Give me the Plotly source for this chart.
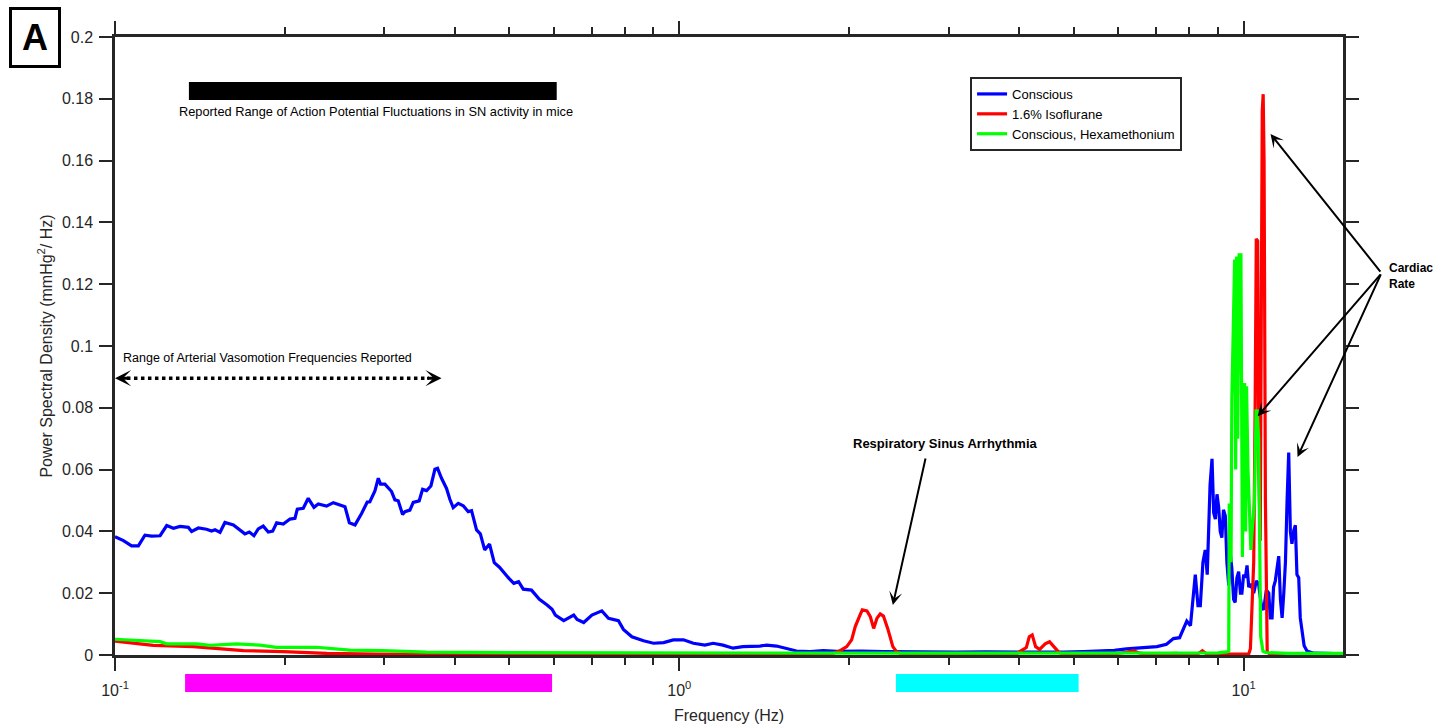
import numpy as np
import plotly.graph_objects as go

# ---- Spectra (frequency in Hz, PSD in mmHg^2/Hz) ----
blue_f = [0.1000, 0.1035, 0.1070, 0.1100, 0.1130, 0.1161, 0.1202, 0.1235, 0.1269, 0.1304,
          0.1349, 0.1367, 0.1405, 0.1453, 0.1483, 0.1504, 0.1535, 0.1566, 0.1621, 0.1699,
          0.1730, 0.1763, 0.1794, 0.1831, 0.1869, 0.1903, 0.1934, 0.1987, 0.2042, 0.2084,
          0.2104, 0.2156, 0.2200, 0.2252, 0.2292, 0.2371, 0.2437, 0.2556, 0.2602, 0.2663,
          0.2735, 0.2799, 0.2829, 0.2888, 0.2928, 0.2955, 0.3008, 0.3091, 0.3133, 0.3176,
          0.3233, 0.3264, 0.3331, 0.3377, 0.3460, 0.3508, 0.3565, 0.3629, 0.3689, 0.3729,
          0.3790, 0.3868, 0.3921, 0.3975, 0.4057, 0.4141, 0.4226, 0.4284, 0.4372, 0.4440,
          0.452, 0.461, 0.470, 0.480, 0.499, 0.509, 0.519, 0.529, 0.547, 0.565,
          0.583, 0.595, 0.603, 0.624, 0.650, 0.659, 0.677, 0.700, 0.729, 0.749,
          0.780, 0.796, 0.824, 0.864, 0.900, 0.938, 0.976, 1.017, 1.059, 1.110,
          1.148, 1.195, 1.245, 1.296, 1.389, 1.428, 1.487, 1.549, 1.613, 1.705,
          1.80, 1.90, 2.10, 2.30, 2.50, 2.80, 3.10, 3.50, 3.90, 4.30,
          4.80, 5.20, 5.60, 5.90, 6.20, 6.50, 6.80, 7.02, 7.30, 7.51,
          7.70, 7.93, 8.05, 8.21, 8.30, 8.38, 8.47, 8.55, 8.62, 8.67,
          8.72, 8.79, 8.85, 8.91, 8.97, 9.03, 9.09, 9.15, 9.21, 9.28,
          9.34, 9.41, 9.47, 9.53, 9.60, 9.66, 9.73, 9.80, 9.87, 9.93,
          10.00, 10.07, 10.14, 10.21, 10.30, 10.42, 10.53, 10.63, 10.75, 10.85,
          10.97, 11.08, 11.15, 11.23, 11.30, 11.38, 11.46, 11.54, 11.62, 11.70,
          11.78, 11.86, 11.94, 12.02, 12.10, 12.18, 12.26, 12.35, 12.43, 12.52,
          12.60, 12.69, 12.80, 12.95, 13.31, 14.00, 15.00]
blue_v = [0.0383, 0.0370, 0.0353, 0.0353, 0.0388, 0.0385, 0.0386, 0.0419, 0.0410, 0.0416,
          0.0413, 0.0400, 0.0411, 0.0407, 0.0401, 0.0405, 0.0397, 0.0429, 0.0421, 0.0392,
          0.0398, 0.0386, 0.0408, 0.0417, 0.0398, 0.0401, 0.0428, 0.0424, 0.0440, 0.0442,
          0.0472, 0.0475, 0.0507, 0.0478, 0.0489, 0.0482, 0.0493, 0.0480, 0.0428, 0.0421,
          0.0458, 0.0495, 0.0496, 0.0531, 0.0572, 0.0553, 0.0553, 0.0529, 0.0502, 0.0499,
          0.0455, 0.0464, 0.0469, 0.0494, 0.0499, 0.0536, 0.0532, 0.0547, 0.0601, 0.0604,
          0.0572, 0.0539, 0.0504, 0.0477, 0.0491, 0.0483, 0.0464, 0.0467, 0.0405, 0.0392,
          0.0340, 0.0359, 0.0299, 0.0284, 0.0248, 0.0232, 0.0237, 0.0213, 0.0210, 0.0180,
          0.0162, 0.0148, 0.0129, 0.0111, 0.0129, 0.0115, 0.0105, 0.0129, 0.0143, 0.0119,
          0.0111, 0.0083, 0.0059, 0.0046, 0.0038, 0.0040, 0.0049, 0.0049, 0.0038, 0.0032,
          0.0038, 0.0032, 0.0022, 0.0027, 0.0029, 0.0032, 0.0029, 0.0022, 0.0013, 0.0011,
          0.0014, 0.0012, 0.0013, 0.0011, 0.0010, 0.0011, 0.0009, 0.0010, 0.0009, 0.0010,
          0.0009, 0.0011, 0.0012, 0.0015, 0.0020, 0.0022, 0.0024, 0.0027, 0.0035, 0.0053,
          0.0056, 0.0110, 0.0095, 0.0260, 0.0160, 0.0160, 0.0300, 0.0340, 0.0260, 0.0400,
          0.0550, 0.0635, 0.0460, 0.0440, 0.0520, 0.0480, 0.0400, 0.0380, 0.0470, 0.0450,
          0.0300, 0.0225, 0.0330, 0.0280, 0.0180, 0.0170, 0.0250, 0.0270, 0.0200, 0.0200,
          0.0260, 0.0250, 0.0290, 0.0220, 0.0230, 0.0200, 0.0240, 0.0230, 0.0160, 0.0146,
          0.0210, 0.0200, 0.0120, 0.0120, 0.0220, 0.0240, 0.0290, 0.0320, 0.0180, 0.0120,
          0.0200, 0.0300, 0.0500, 0.0655, 0.0400, 0.0360, 0.0400, 0.0420, 0.0260, 0.0250,
          0.0120, 0.0080, 0.0030, 0.0013, 0.0006, 0.0005, 0.0004]

red_f = [0.1000, 0.1063, 0.1169, 0.1376, 0.1474, 0.1689, 0.1987, 0.2372, 0.2906, 0.3812,
         0.60, 1.00, 1.50, 1.85, 1.924, 1.98, 2.02, 2.05, 2.09, 2.11,
         2.15, 2.18, 2.21, 2.24, 2.27, 2.30, 2.34, 2.36, 2.39, 2.43,
         2.50, 3.50, 3.95, 4.01, 4.12, 4.17, 4.22, 4.28, 4.35, 4.45,
         4.53, 4.61, 4.71, 4.80, 5.50, 5.90, 6.20, 6.37, 6.55, 6.80,
         7.60, 7.90, 8.30, 8.45, 8.60, 10.21, 10.28, 10.35, 10.42, 10.48,
         10.53, 10.59, 10.64, 10.70, 10.74, 10.79, 10.83, 10.87, 10.93, 10.97,
         11.01, 11.15, 15.00]
red_v = [0.0045, 0.0040, 0.0031, 0.0027, 0.0022, 0.0014, 0.0011, 0.0005, 0.0003, 0.0001,
         0.0001, 0.0001, 0.0001, 0.0002, 0.0013, 0.0027, 0.0049, 0.0092, 0.0129, 0.0146,
         0.0143, 0.0124, 0.0086, 0.0119, 0.0133, 0.0126, 0.0086, 0.0061, 0.0027, 0.0009,
         0.0002, 0.0001, 0.0002, 0.0011, 0.0024, 0.0059, 0.0065, 0.0027, 0.0018, 0.0036,
         0.0043, 0.0027, 0.0008, 0.0002, 0.0002, 0.0004, 0.0009, 0.0014, 0.0006, 0.0002,
         0.0005, 0.0002, 0.0004, 0.0014, 0.0003, 0.0003, 0.0020, 0.0200, 0.0300, 0.0800,
         0.1347, 0.1340, 0.0600, 0.0370, 0.1100, 0.1760, 0.1815, 0.1600, 0.0500, 0.0100,
         0.0010, 0.0002, 0.0001]

green_f = [0.1000, 0.1202, 0.1235, 0.1395, 0.1474, 0.1643, 0.1806, 0.1933, 0.2275, 0.2606,
           0.2987, 0.3559, 0.5006, 0.70, 1.00, 2.00, 4.00, 7.00, 9.00, 9.34,
           9.41, 9.43, 9.50, 9.53, 9.60, 9.64, 9.68, 9.72, 9.76, 9.80,
           9.82, 9.86, 9.89, 9.92, 9.95, 10.00, 10.04, 10.08, 10.12, 10.18,
           10.23, 10.30, 10.37, 10.45, 10.52, 10.57, 10.63, 10.67, 10.72, 10.82,
           10.93, 12.00, 15.00]
green_v = [0.0051, 0.0043, 0.0036, 0.0036, 0.0031, 0.0036, 0.0032, 0.0025, 0.0025, 0.0016,
           0.0014, 0.0009, 0.0008, 0.0007, 0.0006, 0.0006, 0.0006, 0.0006, 0.0007, 0.0010,
           0.0012, 0.0490, 0.0300, 0.0827, 0.1110, 0.1280, 0.0600, 0.1290, 0.0700, 0.1250,
           0.1300, 0.1000, 0.1300, 0.0800, 0.0317, 0.0700, 0.0880, 0.0400, 0.0870, 0.0600,
           0.0450, 0.0340, 0.0420, 0.0490, 0.0790, 0.0790, 0.0700, 0.0300, 0.0060, 0.0012,
           0.0008, 0.0005, 0.0005]

# ---- Reported frequency bands (Hz) ----
sn_band = [0.1352, 0.6064]         # action potential fluctuations (black bar)
magenta_band = [0.1331, 0.595]     # band below the axis
cyan_band = [2.42, 5.10]           # band below the axis
vasomotion_band = [0.1, 0.379]     # dotted double arrow

AX = "#262626"
FONT = "Arial, 'Liberation Sans', Helvetica, sans-serif"

fig = go.Figure()
fig.add_trace(go.Scatter(x=blue_f, y=blue_v, mode="lines", name="Conscious",
                         line=dict(color="#0000ff", width=3.2)))
fig.add_trace(go.Scatter(x=red_f, y=red_v, mode="lines", name="1.6% Isoflurane",
                         line=dict(color="#ff0000", width=3.2)))
fig.add_trace(go.Scatter(x=green_f, y=green_v, mode="lines", name="Conscious, Hexamethonium",
                         line=dict(color="#00ff00", width=3.2)))

x_major = [0.1, 1, 10]
x_major_text = ["10<sup>-1</sup>", "10<sup>0</sup>", "10<sup>1</sup>"]
x_minor = [d * m for d in (0.1, 1) for m in range(2, 10)]
y_ticks = [round(0.02 * i, 2) for i in range(11)]

fig.update_layout(
    width=1440, height=728,
    margin=dict(l=115, r=97, t=37, b=73),
    plot_bgcolor="white", paper_bgcolor="white",
    font=dict(family=FONT, color=AX, size=16),
    showlegend=True,
    legend=dict(x=0.6963, y=0.9353, xanchor="left", yanchor="top",
                bgcolor="white", bordercolor=AX, borderwidth=2,
                font=dict(size=13, color="black"), tracegroupgap=0,
                itemwidth=30),
)

fig.update_xaxes(
    type="log", range=[-1, np.log10(15)], automargin=False,
    tickmode="array", tickvals=x_major, ticktext=x_major_text,
    ticks="outside", ticklen=13, tickwidth=2, tickcolor=AX,
    minor=dict(tickmode="array", tickvals=x_minor, ticks="outside",
               ticklen=7, tickwidth=2, tickcolor=AX, showgrid=False),
    showline=True, linewidth=2.5, linecolor=AX, mirror="ticks",
    showgrid=False, zeroline=False,
    ticklabelstandoff=6,
    tickfont=dict(size=16, color=AX),
    title=dict(text="Frequency (Hz)", font=dict(size=16, color=AX), standoff=12),
)
fig.update_yaxes(
    range=[0, 0.2], tickmode="array", tickvals=y_ticks, automargin=False,
    ticks="outside", ticklen=13, tickwidth=2, tickcolor=AX,
    showline=True, linewidth=2.5, linecolor=AX, mirror="ticks",
    showgrid=False, zeroline=False,
    ticklabelstandoff=3,
    tickfont=dict(size=16, color=AX),
    title=dict(text="Power Spectral Density (mmHg<sup>2</sup>/ Hz)",
               font=dict(size=16, color=AX), standoff=6),
)

# ---- Bands ----
fig.add_shape(type="rect", xref="x", yref="y", x0=sn_band[0], x1=sn_band[1],
              y0=0.1796, y1=0.1854, fillcolor="black", line=dict(width=0))
fig.add_shape(type="rect", xref="x", yref="paper", x0=magenta_band[0], x1=magenta_band[1],
              y0=-0.0599, y1=-0.0307, fillcolor="#ff00ff", line=dict(width=0))
fig.add_shape(type="rect", xref="x", yref="paper", x0=cyan_band[0], x1=cyan_band[1],
              y0=-0.0599, y1=-0.0307, fillcolor="#00ffff", line=dict(width=0))

# Dotted vasomotion range with arrowheads at both ends
vy = 0.0896
fig.add_shape(type="line", xref="x", yref="y", x0=0.105, x1=0.360, y0=vy, y1=vy,
              line=dict(color="black", width=3.5, dash="dot"))
for xv, off in ((vasomotion_band[0], 16), (vasomotion_band[1], -16)):
    fig.add_annotation(x=np.log10(xv), y=vy, xref="x", yref="y", ax=off, ay=0,
                       text="", showarrow=True, arrowhead=3, arrowsize=0.9,
                       arrowwidth=3, arrowcolor="black")

ann_font = dict(family=FONT, size=12.5, color="black")
fig.add_annotation(x=np.log10(vasomotion_band[0]), y=0.0962, xref="x", yref="y",
                   xanchor="left", yanchor="middle",
                   text="Range of Arterial Vasomotion Frequencies Reported",
                   showarrow=False, font=ann_font, xshift=6)
fig.add_annotation(x=np.log10(np.sqrt(sn_band[0] * sn_band[1])), y=0.1760, xref="x", yref="y",
                   xanchor="center", xshift=3,
                   text="Reported Range of Action Potential Fluctuations in SN activity in mice",
                   showarrow=False, font=dict(family=FONT, size=12.8, color="black"))

# Respiratory sinus arrhythmia
fig.add_annotation(x=(945 - 115) / 1228, y=(655 - 443) / 618, xref="paper", yref="paper",
                   xanchor="center", yanchor="middle",
                   text="<b>Respiratory Sinus Arrhythmia</b>", showarrow=False,
                   font=dict(family=FONT, size=13, color="black"))
fig.add_annotation(x=np.log10(2.39), y=0.0162, xref="x", yref="y", ax=33, ay=-148,
                   text="", showarrow=True, arrowhead=3, arrowsize=1.1,
                   arrowwidth=2, arrowcolor="black")

# Cardiac rate
fig.add_annotation(x=(1387 - 115) / 1228, y=(655 - 276) / 618, xref="paper", yref="paper",
                   xanchor="left", yanchor="middle", align="left",
                   text="<b>Cardiac<br>Rate</b>", showarrow=False,
                   font=dict(family=FONT, size=12, color="black"))
for hx, hy, ax_, ay_ in ((11.16, 0.1686, 111, 139),
                         (10.59, 0.0773, 124, -143),
                         (12.46, 0.0641, 84, -184)):
    fig.add_annotation(x=np.log10(hx), y=hy, xref="x", yref="y", ax=ax_, ay=ay_,
                       text="", showarrow=True, arrowhead=3, arrowsize=1.1,
                       arrowwidth=2, arrowcolor="black")

# Panel label
fig.add_annotation(x=(35 - 115) / 1228, y=(655 - 37.5) / 618, xref="paper", yref="paper",
                   xanchor="center", yanchor="middle",
                   text="<b>A</b>", showarrow=False, width=46, height=55, borderpad=0,
                   bordercolor="black", borderwidth=3, bgcolor="white",
                   font=dict(family=FONT, size=36, color="black"))

fig.write_html("out.html")
